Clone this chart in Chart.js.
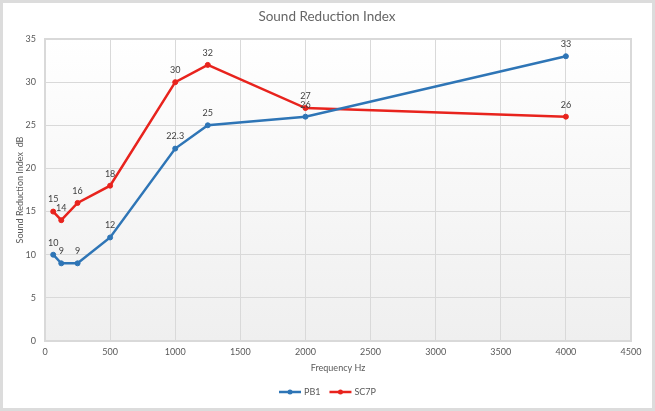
<!DOCTYPE html>
<html lang="en">
<head>
    <meta charset="UTF-8">
    <title>Sound Reduction Index</title>
    <script src="https://cdn.jsdelivr.net/npm/chart.js@4.4.0/dist/chart.umd.min.js"></script>
    <style>
        body { margin: 0; background: #fff; }
        #wrap { width: 655px; height: 411px; }
    </style>
</head>
<body>
    <div id="wrap"><canvas id="myChart" width="655" height="411"></canvas></div>
    <script>
        // data
        const frequencies = [63, 125, 250, 500, 1000, 1250, 2000, 4000];
        const pb1Values = [10, 9, 9, 12, 22.3, 25, 26, 33];
        const sc7pValues = [15, 14, 16, 18, 30, 32, 27, 26];
        const xTicks = [0, 500, 1000, 1500, 2000, 2500, 3000, 3500, 4000, 4500];
        const yTicks = [0, 5, 10, 15, 20, 25, 30, 35];

        const FONT = 'Lato, "Open Sans", sans-serif';
        const TEXT = '#595959';

        function toPoints(values) {
            return frequencies.map((f, i) => ({ x: f, y: values[i] }));
        }

        // plot background, outer frame and plot border
        const backdrop = {
            id: 'backdrop',
            beforeDraw(chart) {
                const { ctx, chartArea: a, width, height } = chart;
                ctx.save();
                ctx.fillStyle = '#ffffff';
                ctx.fillRect(0, 0, width, height);
                const g = ctx.createLinearGradient(0, a.top, 0, a.bottom);
                g.addColorStop(0, '#ffffff');
                g.addColorStop(1, '#efefef');
                ctx.fillStyle = g;
                ctx.fillRect(a.left, a.top, a.right - a.left, a.bottom - a.top);
                ctx.restore();
            },
            afterDraw(chart) {
                const { ctx, chartArea: a, width, height } = chart;
                ctx.save();
                ctx.strokeStyle = '#d9d9d9';
                ctx.lineWidth = 2;
                ctx.strokeRect(a.left, a.top, a.right - a.left, a.bottom - a.top);
                ctx.lineWidth = 3;
                ctx.strokeStyle = '#dcdcdc';
                ctx.strokeRect(1.5, 1.5, width - 3, height - 3);
                ctx.restore();
            }
        };

        // value labels above each point
        const pointLabels = {
            id: 'pointLabels',
            afterDatasetsDraw(chart) {
                const ctx = chart.ctx;
                ctx.save();
                ctx.font = '9px ' + FONT;
                ctx.fillStyle = '#404040';
                ctx.textAlign = 'center';
                ctx.textBaseline = 'middle';
                chart.data.datasets.forEach((ds, di) => {
                    chart.getDatasetMeta(di).data.forEach((pt, i) => {
                        ctx.fillText(String(ds.data[i].y), pt.x, pt.y - 12);
                    });
                });
                ctx.restore();
            }
        };

        // legend with line + marker
        const lineLegend = {
            id: 'lineLegend',
            afterDraw(chart) {
                const ctx = chart.ctx;
                ctx.save();
                ctx.font = '9px ' + FONT;
                ctx.textBaseline = 'middle';
                const y = 392;
                const items = chart.data.datasets.map(ds => ({
                    label: ds.label, color: ds.borderColor, w: 22 + 3 + ctx.measureText(ds.label).width
                }));
                const gap = 9;
                const total = items.reduce((s, it) => s + it.w, 0) + gap * (items.length - 1);
                let x = chart.width / 2 - total / 2;
                items.forEach(it => {
                    ctx.strokeStyle = it.color;
                    ctx.lineWidth = 2.5;
                    ctx.beginPath();
                    ctx.moveTo(x, y);
                    ctx.lineTo(x + 22, y);
                    ctx.stroke();
                    ctx.fillStyle = it.color;
                    ctx.beginPath();
                    ctx.arc(x + 11, y, 2.5, 0, Math.PI * 2);
                    ctx.fill();
                    ctx.fillStyle = TEXT;
                    ctx.fillText(it.label, x + 25, y);
                    x += it.w + gap;
                });
                ctx.restore();
            }
        };

        const ctx = document.getElementById('myChart').getContext('2d');
        new Chart(ctx, {
            type: 'line',
            data: {
                datasets: [{
                    label: 'PB1',
                    data: toPoints(pb1Values),
                    borderColor: '#2e75b6',
                    backgroundColor: '#2e75b6',
                    borderWidth: 2.5,
                    pointRadius: 2.5,
                    pointBorderWidth: 1,
                    pointHoverRadius: 2.5,
                    tension: 0
                }, {
                    label: 'SC7P',
                    data: toPoints(sc7pValues),
                    borderColor: '#e8231d',
                    backgroundColor: '#e8231d',
                    borderWidth: 2.5,
                    pointRadius: 2.5,
                    pointBorderWidth: 1,
                    pointHoverRadius: 2.5,
                    tension: 0
                }]
            },
            options: {
                responsive: false,
                animation: false,
                layout: { padding: { top: 39, right: 24, bottom: 34, left: 0 } },
                plugins: {
                    legend: { display: false },
                    tooltip: { enabled: false },
                    title: { display: false }
                },
                scales: {
                    x: {
                        type: 'linear',
                        min: 0,
                        max: 4500,
                        afterBuildTicks: s => { s.ticks = xTicks.map(v => ({ value: v })); },
                        afterFit: s => { s.height = 36; },
                        grid: { color: '#d9d9d9', drawTicks: false },
                        border: { display: false },
                        ticks: { color: TEXT, font: { family: FONT, size: 9 }, padding: 6, maxRotation: 0, callback: v => String(v) },
                        title: { display: true, text: 'Frequency Hz', color: TEXT, font: { family: FONT, size: 9 }, padding: { top: 4, bottom: 4 } }
                    },
                    y: {
                        min: 0,
                        max: 35,
                        afterBuildTicks: s => { s.ticks = yTicks.map(v => ({ value: v })); },
                        afterFit: s => { s.width = 45; },
                        grid: { color: '#d9d9d9', drawTicks: false },
                        border: { display: false },
                        ticks: { color: TEXT, font: { family: FONT, size: 9 }, padding: 9, callback: v => String(v) },
                        title: { display: true, text: 'Sound Reduction Index  dB', color: TEXT, font: { family: FONT, size: 9 }, padding: { top: 15, bottom: 0 } }
                    }
                }
            },
            plugins: [backdrop, pointLabels, lineLegend, {
                id: 'chartTitle',
                afterDraw(chart) {
                    const c = chart.ctx;
                    c.save();
                    c.font = '13.5px ' + FONT;
                    c.fillStyle = '#666666';
                    c.textAlign = 'center';
                    c.textBaseline = 'middle';
                    c.fillText('Sound Reduction Index', 327, 17);
                    c.restore();
                }
            }]
        });
    </script>
</body>
</html>
